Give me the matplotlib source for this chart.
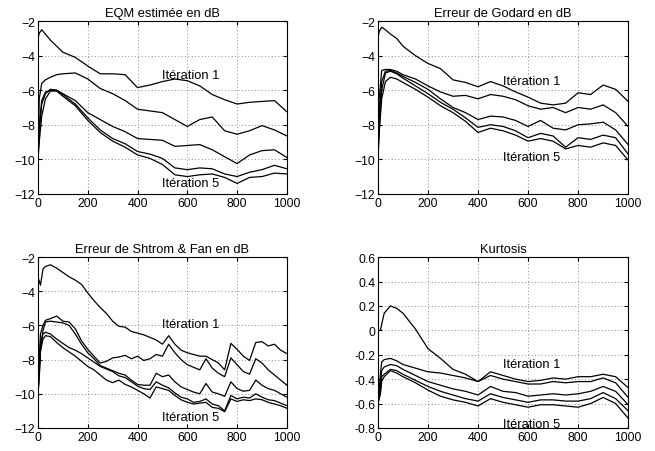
import matplotlib
matplotlib.use("Agg")
import matplotlib.pyplot as plt

plt.rcParams['font.family'] = ['Liberation Sans', 'DejaVu Sans']

# x positions (samples) of the read points
x_coarse = [0, 5, 15, 30, 50, 75, 100, 150, 200, 250, 300, 350, 400, 450,
            500, 550, 600, 650, 700, 750, 800, 850, 900, 950, 1000]

eqm = [
    [-3.0, -2.7, -2.5, -2.75, -3.1, -3.45, -3.8, -4.1, -4.6, -5.05, -5.05, -5.1, -5.85, -5.7,
     -5.5, -5.35, -5.45, -5.75, -6.25, -6.55, -6.8, -6.7, -6.65, -6.6, -7.25],
    [-10.0, -6.5, -5.6, -5.4, -5.25, -5.1, -5.05, -5.0, -5.35, -5.9, -6.2, -6.6, -7.1, -7.2,
     -7.3, -7.7, -8.1, -7.7, -7.55, -8.35, -8.55, -8.35, -8.05, -8.3, -8.65],
    [-10.0, -8.0, -6.6, -6.1, -6.0, -6.0, -6.2, -6.6, -7.3, -7.7, -8.1, -8.4, -8.8, -8.85,
     -8.9, -9.25, -9.2, -9.15, -9.45, -9.85, -10.25, -9.75, -9.5, -9.45, -9.9],
    [-10.0, -8.5, -6.8, -6.2, -5.95, -6.0, -6.25, -6.8, -7.6, -8.3, -8.8, -9.1, -9.55, -9.7,
     -9.95, -10.5, -10.6, -10.5, -10.55, -10.85, -11.0, -10.75, -10.6, -10.35, -10.55],
    [-10.0, -9.0, -7.5, -6.5, -6.05, -6.05, -6.35, -6.9, -7.75, -8.45, -8.95, -9.3, -9.75, -9.95,
     -10.3, -10.9, -11.0, -10.9, -10.85, -11.05, -11.4, -11.05, -11.0, -10.8, -10.85],
]

godard = [
    [-3.0, -2.6, -2.35, -2.5, -2.75, -3.0, -3.45, -4.0, -4.45, -4.75, -5.4, -5.55, -5.8, -5.5,
     -5.75, -6.1, -6.4, -6.75, -6.85, -6.75, -6.15, -6.25, -5.7, -5.95, -6.65],
    [-10.0, -6.5, -4.85, -4.8, -4.8, -4.9, -5.1, -5.35, -5.75, -6.1, -6.35, -6.3, -6.5, -6.25,
     -6.35, -6.55, -6.9, -7.1, -7.0, -7.3, -7.0, -7.1, -6.85, -7.3, -8.1],
    [-10.0, -7.5, -5.5, -4.9, -4.85, -5.0, -5.2, -5.55, -5.95, -6.5, -7.0, -7.3, -7.7, -7.5,
     -7.55, -7.75, -8.1, -7.75, -8.2, -8.3, -8.0, -7.95, -7.85, -8.3, -9.15],
    [-10.0, -8.0, -6.0, -5.0, -4.9, -5.05, -5.3, -5.75, -6.2, -6.7, -7.1, -7.6, -8.15, -8.0,
     -8.1, -8.35, -8.75, -8.5, -8.65, -9.3, -8.75, -8.85, -8.6, -8.75, -9.7],
    [-10.0, -8.5, -6.5, -5.5, -5.25, -5.35, -5.55, -5.95, -6.4, -6.9, -7.3, -7.8, -8.45, -8.2,
     -8.35, -8.6, -8.95, -8.8, -8.95, -9.4, -9.2, -9.3, -9.05, -9.2, -10.05],
]

x_fine = [0, 5, 10, 20, 30, 50, 75, 100, 125, 150, 175, 200, 225, 250, 275, 300, 325, 350,
          375, 400, 425, 450, 475, 500, 525, 550, 575, 600, 625, 650, 675, 700, 725, 750,
          775, 800, 825, 850, 875, 900, 925, 950, 975, 1000]

shtrom = [
    [-3.2, -3.4, -3.65, -2.7, -2.55, -2.45, -2.65, -2.9, -3.15, -3.35, -3.6, -4.1, -4.55, -4.95,
     -5.3, -5.75, -6.05, -6.1, -6.35, -6.45, -6.55, -6.7, -6.85, -7.1, -6.6, -7.1, -7.45, -7.6,
     -7.7, -7.8, -7.8, -8.0, -8.2, -8.6, -7.05, -7.4, -7.8, -8.05, -7.0, -6.95, -7.2, -7.1,
     -7.45, -7.65],
    [-10.0, -8.0, -6.5, -6.0, -5.7, -5.6, -5.45, -5.75, -5.8, -6.2, -6.9, -7.4, -7.8, -8.2,
     -8.1, -7.9, -7.85, -7.75, -7.95, -7.8, -8.05, -7.95, -7.7, -7.8, -7.1, -7.6, -8.0, -8.3,
     -8.45, -8.6, -7.95, -8.5, -8.8, -9.0, -7.9, -8.3, -8.7, -8.85, -7.95, -8.2, -8.6, -8.9,
     -9.2, -9.5],
    [-10.0, -9.0, -7.5, -6.3, -5.8, -5.75, -5.8, -5.85, -6.0, -6.5, -7.1, -7.6, -7.95, -8.35,
     -8.5, -8.65, -8.8, -8.9, -9.2, -9.45, -9.5, -9.5, -8.8, -9.0, -8.9, -9.3, -9.6, -9.75,
     -9.9, -10.0, -9.4, -9.9, -10.0, -10.15, -9.3, -9.7, -9.85, -9.8, -9.2, -9.5, -9.7, -9.8,
     -10.0, -10.2],
    [-10.0, -8.5, -7.0, -6.5, -6.4, -6.5, -6.8, -7.05, -7.3, -7.45, -7.65, -7.9, -8.15, -8.4,
     -8.55, -8.7, -8.95, -9.05, -9.3, -9.55, -9.7, -9.75, -9.3, -9.5, -9.65, -9.95, -10.2, -10.3,
     -10.5, -10.45, -10.3, -10.6, -10.7, -11.0, -10.1, -10.3, -10.2, -10.25, -10.0, -10.2, -10.35,
     -10.4, -10.55, -10.7],
    [-10.0, -9.0, -7.5, -6.8, -6.6, -6.65, -7.0, -7.3, -7.55, -7.8, -8.1, -8.4, -8.6, -8.9,
     -9.2, -9.35, -9.2, -9.45, -9.6, -9.8, -10.0, -10.25, -9.6, -9.7, -9.8, -10.1, -10.35, -10.5,
     -10.6, -10.55, -10.5, -10.8, -10.85, -11.05, -10.3, -10.45, -10.35, -10.4, -10.3, -10.35,
     -10.5, -10.6, -10.7, -10.85],
]

x_kurt = [0, 10, 15, 25, 50, 75, 100, 150, 200, 250, 300, 350, 400, 450, 500, 550, 600,
          650, 700, 750, 800, 850, 900, 950, 1000]

kurt = [
    [0.0, 0.0, 0.05, 0.14, 0.2, 0.18, 0.14, 0.01, -0.15, -0.23, -0.32, -0.36, -0.42, -0.34,
     -0.37, -0.4, -0.42, -0.41, -0.39, -0.4, -0.38, -0.38, -0.36, -0.38, -0.47],
    [-0.6, -0.35, -0.26, -0.24, -0.23, -0.25, -0.28, -0.31, -0.34, -0.35, -0.37, -0.39, -0.42,
     -0.37, -0.4, -0.42, -0.44, -0.44, -0.42, -0.43, -0.42, -0.42, -0.39, -0.43, -0.55],
    [-0.6, -0.45, -0.33, -0.3, -0.28, -0.29, -0.32, -0.37, -0.42, -0.45, -0.48, -0.5, -0.53,
     -0.46, -0.5, -0.51, -0.54, -0.53, -0.52, -0.53, -0.52, -0.5, -0.46, -0.5, -0.61],
    [-0.6, -0.5, -0.38, -0.36, -0.32, -0.33, -0.36, -0.41, -0.46, -0.5, -0.53, -0.56, -0.58,
     -0.52, -0.55, -0.57, -0.59, -0.57, -0.57, -0.58, -0.58, -0.56, -0.51, -0.56, -0.66],
    [-0.6, -0.52, -0.42, -0.38, -0.33, -0.35, -0.38, -0.43, -0.49, -0.54, -0.57, -0.59, -0.62,
     -0.56, -0.59, -0.61, -0.63, -0.61, -0.61, -0.62, -0.63, -0.6, -0.55, -0.6, -0.72],
]

titles = ["EQM estimée en dB", "Erreur de Godard en dB",
          "Erreur de Shtrom & Fan en dB", "Kurtosis"]
xs = [x_coarse, x_coarse, x_fine, x_kurt]
panels = [eqm, godard, shtrom, kurt]
ylims = [(-12, -2), (-12, -2), (-12, -2), (-0.8, 0.6)]
yticks = [[-12, -10, -8, -6, -4, -2]] * 3 + [[-0.8, -0.6, -0.4, -0.2, 0, 0.2, 0.4, 0.6]]
label1_y = [-5.1, -5.45, -5.9, -0.28]
label5_y = [-11.4, -9.85, -11.35, -0.77]

rects = [
    [0.058, 0.569, 0.380, 0.382],
    [0.577, 0.569, 0.382, 0.382],
    [0.058, 0.051, 0.380, 0.378],
    [0.577, 0.051, 0.382, 0.378],
]

fig = plt.figure(figsize=(6.55, 4.52), dpi=100)

for k in range(4):
    ax = fig.add_axes(rects[k])
    for curve in panels[k]:
        ax.plot(xs[k], curve, color='black', linewidth=0.9)
    ax.set_xlim(0, 1000)
    ax.set_ylim(*ylims[k])
    ax.set_xticks([0, 200, 400, 600, 800, 1000])
    ax.set_yticks(yticks[k])
    if k == 3:
        ax.set_yticklabels(["-0.8", "-0.6", "-0.4", "-0.2", "0", "0.2", "0.4", "0.6"])
    ax.grid(True, linestyle=(0, (1, 3)), color='black', linewidth=0.6, alpha=0.6)
    ax.tick_params(direction='in', length=3, labelsize=8.8, top=True, right=True, pad=2)
    ax.set_title(titles[k], fontsize=9.3, pad=4)
    ax.text(500, label1_y[k], "Itération 1", fontsize=9.3, va='center', ha='left')
    ax.text(500, label5_y[k], "Itération 5", fontsize=9.3, va='center', ha='left')
    for sp in ax.spines.values():
        sp.set_linewidth(0.8)

fig.savefig("out.png", dpi=100)
